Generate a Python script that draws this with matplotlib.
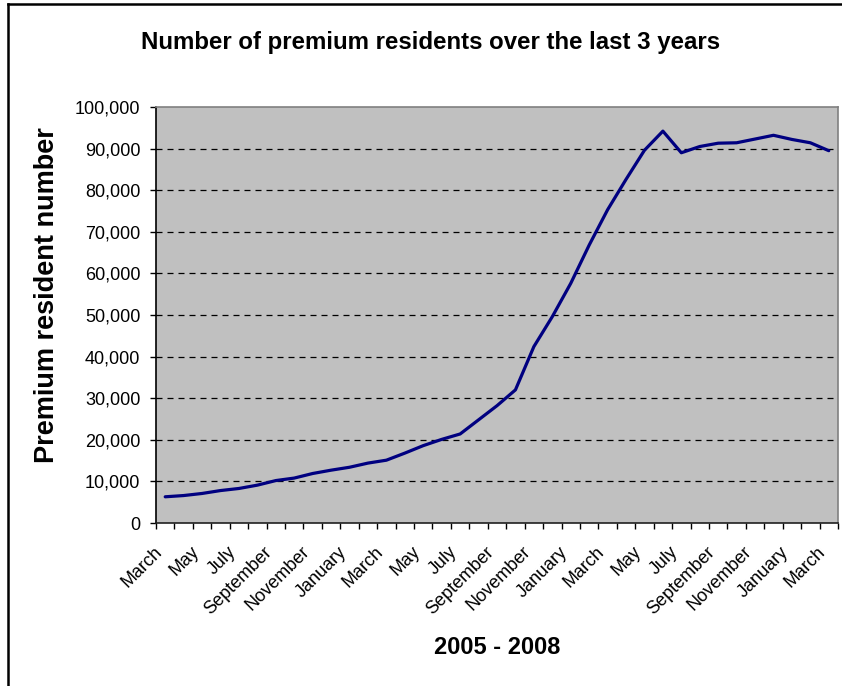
import numpy as np
import matplotlib
matplotlib.use("Agg")
import matplotlib.pyplot as plt
from matplotlib.lines import Line2D
from matplotlib.ticker import FuncFormatter
from matplotlib.transforms import ScaledTranslation

plt.rcParams['font.family'] = ['Liberation Sans', 'DejaVu Sans']

# monthly premium resident counts, March 2005 .. March 2008
months = ["March", "April", "May", "June", "July", "August", "September", "October",
          "November", "December", "January", "February"]
month_labels = [months[i % 12] for i in range(37)]
residents = [6300, 6600, 7100, 7800, 8300, 9100, 10200, 10800, 11900, 12700,
             13400, 14400, 15100, 16800, 18600, 20100, 21400, 24800, 28200, 32000,
             42400, 49600, 57600, 66800, 75300, 82600, 89600, 94200, 89000, 90500,
             91300, 91400, 92300, 93200, 92200, 91400, 89500]
y_ticks = list(range(0, 100001, 10000))

fig = plt.figure(figsize=(8.42, 6.86), dpi=100)
W, H = 842, 686
ax = fig.add_axes([156 / W, (H - 523) / H, 682 / W, 416 / H])
ax.set_facecolor('#C0C0C0')

x = np.arange(len(residents))
ax.plot(x, residents, color='#000080', lw=2.3, solid_capstyle='round',
        solid_joinstyle='round', zorder=3)

ax.set_xlim(-0.5, len(residents) - 0.5)
ax.set_ylim(0, 100000)

# y axis
ax.set_yticks(y_ticks)
ax.yaxis.set_major_formatter(FuncFormatter(lambda v, p: f"{int(v):,}"))
ax.tick_params(axis='y', direction='out', length=4.3, width=1, pad=7, labelsize=13)
for v in y_ticks[1:-1]:
    ax.axhline(v, color='black', lw=0.9, dashes=(4.8, 4), zorder=1)

# x axis: tick marks between categories, labels on every other month
ax.set_xticks(np.arange(-0.5, len(residents), 1))
ax.set_xticklabels([])
ax.tick_params(axis='x', which='major', direction='out', length=4.3, width=1)
ax.set_xticks(x[::2], minor=True)
ax.set_xticklabels(month_labels[::2], minor=True, rotation=45, ha='right',
                   va='center', rotation_mode='anchor', fontsize=13)
ax.tick_params(axis='x', which='minor', length=0, pad=19)
shift = ScaledTranslation(-6 / 100, 0, fig.dpi_scale_trans)
for lbl in ax.get_xticklabels(minor=True):
    lbl.set_transform(lbl.get_transform() + shift)

ax.spines['left'].set_color('black')
ax.spines['bottom'].set_color('#202020')
ax.spines['top'].set_color('#808080')
ax.spines['right'].set_color('#808080')
for s in ax.spines.values():
    s.set_linewidth(1.2)

fig.text(431 / W, 1 - 42 / H, "Number of premium residents over the last 3 years",
         ha='center', va='center', fontsize=17.3, fontweight='bold')
fig.text(47 / W, 1 - 295 / H, "Premium resident number", rotation=90,
         ha='center', va='center', fontsize=19.5, fontweight='bold')
fig.text(497 / W, 1 - 648 / H, "2005 - 2008", ha='center', va='center',
         fontsize=17, fontweight='bold')

# chart frame (left and top edges)
fig.add_artist(Line2D([8 / W, 8 / W], [0, 1 - 4 / H], transform=fig.transFigure,
                      color='black', lw=1.8))
fig.add_artist(Line2D([8 / W, 1], [1 - 4 / H, 1 - 4 / H], transform=fig.transFigure,
                      color='black', lw=1.8))

fig.savefig("out.png", dpi=100)
